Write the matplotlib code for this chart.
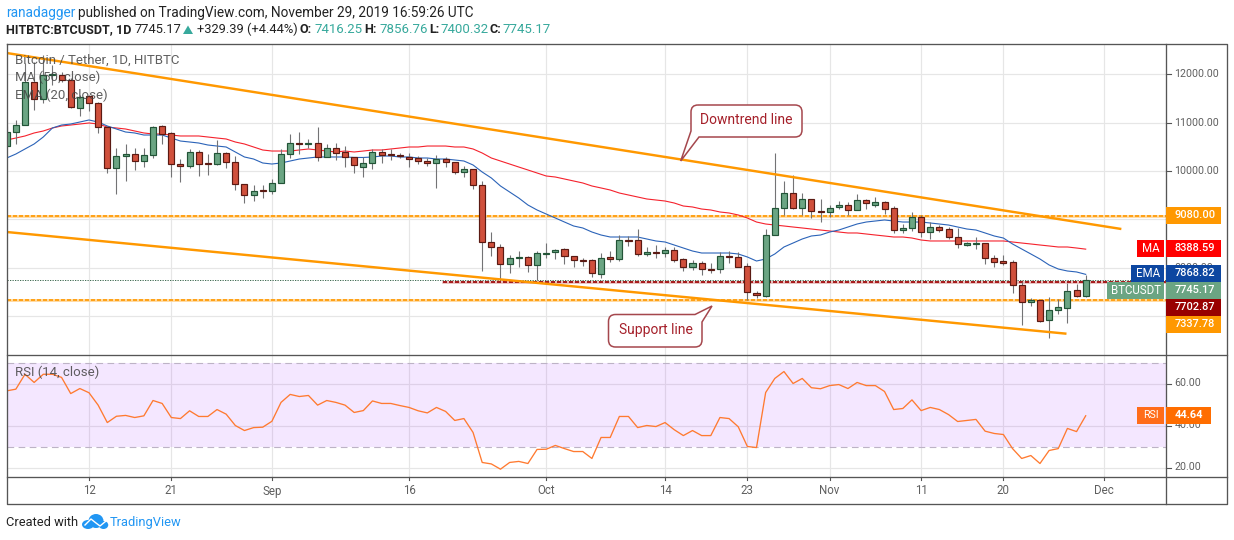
import matplotlib
matplotlib.use("Agg")
import matplotlib.pyplot as plt
from matplotlib.patches import Rectangle, PathPatch, Polygon, Ellipse
from matplotlib.path import Path

plt.rcParams['font.family'] = ['Roboto', 'DejaVu Sans']

# day numbers counted from 12 Aug 2019, first candle is 3 Aug
first_day = -9

opens = [10515, 10804, 10948, 11835, 11485, 11980, 11980, 11876, 11299, 11546,
         11402, 10907, 10062, 10309, 10350, 10206, 10330, 10928, 10784, 10144,
         10103, 10392, 10165, 10144, 10371, 10186, 9732, 9505, 9608, 9588,
         9753, 10350, 10577, 10557, 10577, 10289, 10474, 10392, 10289, 10082,
         10165, 10392, 10350, 10330, 10289, 10268, 10206, 10165, 10247, 10186,
         9979, 10041, 9711, 8536, 8433, 8082, 8206, 8227, 8062, 8289,
         8330, 8392, 8247, 8165, 8165, 7876, 8227, 8185, 8577, 8577,
         8289, 8330, 8309, 8371, 8185, 8021, 8103, 7979, 7979, 8247,
         8227, 8041, 7484, 7423, 8680, 9237, 9546, 9237, 9423, 9175,
         9155, 9258, 9299, 9196, 9402, 9299, 9361, 9237, 8783, 8825,
         9052, 8742, 8845, 8804, 8639, 8474, 8495, 8515, 8206, 8144,
         8124, 7649, 7299, 7340, 6928, 7134, 7175, 7546, 7416.25]
highs = [10928, 11052, 12227, 12248, 12392, 12186, 12041, 11918, 11567, 11567,
         11423, 10928, 10474, 10557, 10474, 10474, 10928, 10948, 10804, 10247,
         10454, 10433, 10350, 10639, 10392, 10309, 9732, 9711, 9711, 9835,
         10454, 10763, 10804, 10660, 10907, 10557, 10577, 10515, 10289, 10289,
         10454, 10454, 10454, 10371, 10371, 10309, 10268, 10330, 10289, 10186,
         10103, 10041, 9794, 8742, 8495, 8268, 8350, 8247, 8350, 8515,
         8392, 8412, 8247, 8206, 8185, 8309, 8350, 8680, 8660, 8804,
         8433, 8474, 8433, 8433, 8206, 8165, 8144, 8103, 8330, 8350,
         8330, 8103, 7526, 8804, 10371, 9794, 9918, 9546, 9423, 9423,
         9299, 9381, 9361, 9526, 9423, 9464, 9381, 9278, 8907, 9155,
         9093, 8948, 8886, 8845, 8825, 8536, 8639, 8515, 8268, 8268,
         8165, 7711, 7381, 7340, 7402, 7360, 7690, 7670, 7856.76]
lows = [10515, 10557, 10948, 11258, 11402, 11773, 11835, 11299, 11134, 11237,
        10784, 9959, 9526, 9794, 10021, 10082, 10268, 10557, 9876, 9773,
        10062, 9897, 9918, 10124, 10062, 9608, 9340, 9381, 9443, 9526,
        9753, 10268, 10350, 10474, 10206, 10289, 10227, 10082, 9959, 9876,
        10041, 10165, 10227, 10268, 10082, 10144, 10103, 9650, 10082, 9938,
        9876, 9629, 7938, 8247, 7773, 7897, 8021, 7918, 7752, 8206,
        8185, 8082, 8021, 8041, 7814, 7794, 8124, 8144, 8454, 8247,
        8247, 8206, 8227, 8124, 7938, 7959, 7855, 7897, 7897, 8103,
        8021, 7340, 7381, 7402, 8680, 9093, 9216, 9093, 9031, 8948,
        9052, 9216, 9093, 9196, 9216, 9258, 9113, 8722, 8722, 8763,
        8639, 8598, 8742, 8598, 8412, 8454, 8392, 8082, 8021, 8062,
        7484, 6824, 7216, 6886, 6556, 7051, 6866, 7402, 7400.32]
closes = [10804, 10948, 11835, 11485, 11980, 12000, 11876, 11320, 11526, 11402,
          10907, 10062, 10309, 10350, 10206, 10330, 10907, 10763, 10144, 10103,
          10392, 10144, 10144, 10371, 10186, 9732, 9505, 9588, 9588, 9753,
          10350, 10577, 10557, 10577, 10289, 10474, 10371, 10289, 10124, 10165,
          10392, 10330, 10330, 10309, 10247, 10206, 10165, 10247, 10186, 9979,
          10041, 9711, 8536, 8433, 8082, 8206, 8227, 8062, 8309, 8309,
          8371, 8247, 8165, 8144, 7897, 8206, 8185, 8577, 8557, 8289,
          8330, 8309, 8371, 8165, 8021, 8103, 7979, 7959, 8247, 8227,
          8021, 7505, 7443, 8680, 9237, 9546, 9237, 9423, 9175, 9155,
          9237, 9299, 9196, 9402, 9340, 9361, 9216, 8783, 8825, 9052,
          8742, 8845, 8783, 8639, 8495, 8515, 8515, 8206, 8124, 8103,
          7649, 7299, 7340, 6907, 7134, 7196, 7526, 7423, 7745.17]

ma_50 = [10639, 10680, 10722, 10784, 10825, 10887, 10928, 10948, 10969, 10990,
         10969, 10907, 10887, 10866, 10825, 10784, 10763, 10763, 10742, 10722,
         10722, 10722, 10701, 10680, 10660, 10598, 10557, 10495, 10433, 10412,
         10412, 10412, 10433, 10454, 10433, 10412, 10392, 10412, 10392, 10412,
         10433, 10433, 10454, 10474, 10495, 10495, 10515, 10515, 10515, 10495,
         10495, 10454, 10371, 10268, 10206, 10144, 10082, 10021, 9959, 9897,
         9876, 9835, 9794, 9753, 9691, 9650, 9608, 9546, 9505, 9464,
         9423, 9402, 9381, 9340, 9278, 9258, 9216, 9196, 9155, 9134,
         9093, 9031, 8948, 8907, 8886, 8866, 8845, 8825, 8804, 8783,
         8763, 8742, 8722, 8722, 8701, 8680, 8660, 8639, 8639, 8618,
         8577, 8557, 8557, 8557, 8557, 8557, 8557, 8557, 8557, 8557,
         8536, 8515, 8495, 8474, 8454, 8433, 8433, 8412, 8388.59]
ema_20 = [10268, 10350, 10454, 10557, 10701, 10887, 10948, 10969, 11010, 11052,
          11010, 10928, 10866, 10804, 10784, 10742, 10742, 10742, 10680, 10618,
          10598, 10577, 10536, 10515, 10495, 10392, 10289, 10247, 10165, 10144,
          10165, 10206, 10247, 10268, 10289, 10289, 10289, 10289, 10279, 10279,
          10289, 10309, 10309, 10289, 10289, 10268, 10268, 10247, 10247, 10227,
          10206, 10124, 9979, 9856, 9691, 9567, 9443, 9299, 9196, 9113,
          9031, 8948, 8866, 8825, 8742, 8680, 8639, 8639, 8639, 8639,
          8598, 8557, 8536, 8474, 8412, 8350, 8309, 8309, 8309, 8309,
          8289, 8227, 8144, 8185, 8289, 8433, 8515, 8598, 8660, 8680,
          8742, 8783, 8845, 8907, 8948, 8969, 8990, 8969, 8948, 8948,
          8948, 8928, 8907, 8886, 8845, 8804, 8783, 8722, 8660, 8618,
          8495, 8392, 8289, 8185, 8062, 7979, 7938, 7918, 7868.82]
rsi_14 = [56.5, 57.3, 64.4, 60.5, 64.4, 64.4, 62.9, 55.2, 57.6, 55.6,
          49.7, 41.4, 44.4, 44.8, 43.8, 44.6, 51.9, 50.5, 43.8, 43.3,
          47.0, 44.3, 44.3, 47.6, 45.4, 40.0, 37.6, 39.0, 39.2, 42.0,
          51.0, 54.8, 53.8, 54.3, 49.7, 51.9, 51.0, 49.7, 46.2, 47.1,
          51.7, 50.5, 50.5, 49.5, 48.6, 47.0, 46.0, 48.6, 46.7, 42.4,
          43.3, 36.7, 22.4, 21.7, 19.2, 22.4, 22.9, 21.9, 28.6, 28.7,
          30.5, 29.0, 27.6, 27.6, 24.3, 34.3, 34.3, 44.3, 44.3, 39.0,
          40.0, 39.5, 41.4, 38.0, 35.2, 37.6, 35.2, 35.2, 43.8, 43.3,
          39.4, 30.0, 29.5, 55.7, 62.4, 65.7, 60.0, 62.4, 58.0, 57.5,
          59.0, 59.5, 57.6, 60.5, 59.0, 59.0, 56.2, 47.6, 48.1, 52.2,
          47.1, 48.6, 47.6, 45.2, 41.9, 42.4, 42.9, 37.3, 36.2, 35.7,
          29.0, 24.3, 25.7, 21.9, 28.1, 29.0, 38.6, 37.1, 44.64]

tick_days = [0, 9, 20, 35, 50, 63, 72, 81, 91, 100, 111]
tick_labels = ['12', '21', 'Sep', '16', 'Oct', '14', '23', 'Nov', '11', '20', 'Dec']
price_ticks = [7000, 8000, 9000, 10000, 11000, 12000]
# 9000 and 7000 sit fully behind the price tags in the picture
price_labels = [8000, 10000, 11000, 12000]
rsi_ticks = [20, 40, 60]

upper_days = [-9.0, 112.9]
upper_prices = [12433, 8804]
lower_days = [-9.0, 106.9]
lower_prices = [8742, 6645]
resistance = 9080.00
support = 7337.78
broken_level = 7702.87
broken_start = 38.7
last_price = 7745.17

W, H = 1234, 540
LEFT, AXIS, RIGHT = 6.5, 1165.5, 1227
TOP, SPLIT, RSI_BOTTOM, BOTTOM = 43.5, 355, 476.5, 503.5

GREEN, GREEN_EDGE = '#6ba583', '#225437'
RED, RED_EDGE = '#d0503c', '#5b1a13'
WICK = '#737375'
ORANGE = '#ff9800'
GRID = '#e6e6e6'
FRAME = '#555555'
TEXT = '#5f5f5f'
TEAL = '#37a99c'
AXIS_FS = 7.7


def px_axes(fig, x0, y0, x1, y1):
    return fig.add_axes([x0 / W, 1 - y1 / H, (x1 - x0) / W, (y1 - y0) / H])


def callout(ax, x0, y0, x1, y1, before_right, before_left, r=7):
    # clockwise round box, before_right is spliced into the top/right side, before_left into bottom/left
    verts = [(x0 + r, y0)]
    codes = [Path.MOVETO]
    for p in before_right:
        verts.append(p)
        codes.append(Path.LINETO)
    if not before_right:
        verts += [(x1 - r, y0), (x1, y0), (x1, y0 + r)]
        codes += [Path.LINETO, Path.CURVE3, Path.CURVE3]
    verts += [(x1, y1 - r), (x1, y1), (x1 - r, y1)]
    codes += [Path.LINETO, Path.CURVE3, Path.CURVE3]
    for p in before_left:
        verts.append(p)
        codes.append(Path.LINETO)
    if not before_left:
        verts += [(x0 + r, y1), (x0, y1), (x0, y1 - r)]
        codes += [Path.LINETO, Path.CURVE3, Path.CURVE3]
    verts += [(x0, y0 + r), (x0, y0), (x0 + r, y0)]
    codes += [Path.LINETO, Path.CURVE3, Path.CURVE3]
    ax.add_patch(PathPatch(Path(verts, codes), fc='white', ec='#a5474d', lw=1.1, zorder=5))


def main():
    fig = plt.figure(figsize=(W / 100, H / 100), dpi=100, facecolor='white')

    days = list(range(first_day, first_day + len(closes)))
    x_left = (LEFT - 89) / 9.144
    x_right = (AXIS - 89) / 9.144

    # price pane
    ax = px_axes(fig, LEFT, TOP, AXIS, SPLIT)
    ax.set_xlim(x_left, x_right)
    ax.set_ylim(13526 - 20.62 * SPLIT, 13526 - 20.62 * TOP)
    ax.set_xticks(tick_days)
    ax.set_yticks(price_ticks)
    ax.grid(True, color=GRID, lw=0.85)
    ax.set_axisbelow(True)
    ax.tick_params(left=False, bottom=False, right=False, labelleft=False, labelbottom=False)
    for s in ax.spines.values():
        s.set_visible(False)

    ax.axhline(last_price, color=GREEN_EDGE, lw=0.6, ls=(0, (1.5, 1.5)), zorder=1)
    for level in [resistance, support]:
        ax.axhline(level, color='#ffd79a', lw=2.0, zorder=1.5)
        ax.axhline(level, color=ORANGE, lw=1.2, ls=(0, (2.4, 1.2)), zorder=1.6)
    ax.plot([broken_start, x_right], [broken_level, broken_level], color='#e7b9b9', lw=1.9, zorder=1.5)
    ax.plot([broken_start, x_right], [broken_level, broken_level], color='#990000', lw=1.2,
            ls=(0, (2.4, 1.2)), zorder=1.6)

    ax.plot(days, ma_50, color='#f5222d', lw=0.8, zorder=2)
    ax.plot(days, ema_20, color='#2b63b8', lw=0.8, zorder=2)

    for d, o, h, l, c in zip(days, opens, highs, lows, closes):
        up = c >= o
        ax.plot([d, d], [l, h], color=WICK, lw=0.8, zorder=3, solid_capstyle='butt')
        ax.add_patch(Rectangle((d - 0.33, min(o, c)), 0.66, max(abs(c - o), 18),
                               fc=GREEN if up else RED, ec=GREEN_EDGE if up else RED_EDGE,
                               lw=0.85, zorder=4))

    ax.plot(upper_days, upper_prices, color=ORANGE, lw=1.75, zorder=4.5, solid_capstyle='butt')
    ax.plot(lower_days, lower_prices, color=ORANGE, lw=1.75, zorder=4.5, solid_capstyle='butt')

    # rsi pane
    rx = px_axes(fig, LEFT, SPLIT, AXIS, RSI_BOTTOM)
    rx.set_xlim(x_left, x_right)
    rx.set_ylim(60 - (RSI_BOTTOM - 383.5) / 2.1, 60 - (SPLIT - 383.5) / 2.1)
    rx.set_xticks(tick_days)
    rx.set_yticks(rsi_ticks)
    rx.grid(True, color=GRID, lw=0.85)
    rx.set_axisbelow(True)
    rx.tick_params(left=False, bottom=False, labelleft=False, labelbottom=False)
    for s in rx.spines.values():
        s.set_visible(False)
    rx.axhspan(30, 70, color='#9915ff', alpha=0.1, lw=0, zorder=1)
    for level in [30, 70]:
        rx.axhline(level, color='#bdb3c6', lw=0.8, ls=(0, (6, 4)), zorder=1.5)
    rx.plot(days, rsi_14, color='#ff7a30', lw=0.95, zorder=3)

    # everything outside the data lives on a pixel overlay
    ov = fig.add_axes([0, 0, 1, 1], facecolor='none')
    ov.set_xlim(0, W)
    ov.set_ylim(H, 0)
    ov.axis('off')

    for xs, ys in [([LEFT, RIGHT, RIGHT, LEFT, LEFT], [TOP, TOP, BOTTOM, BOTTOM, TOP]),
                   ([AXIS, AXIS], [TOP, BOTTOM]),
                   ([LEFT, RIGHT], [SPLIT, SPLIT]),
                   ([LEFT, RIGHT], [RSI_BOTTOM, RSI_BOTTOM])]:
        ov.plot(xs, ys, color=FRAME, lw=0.95, zorder=6, solid_capstyle='projecting')

    for d, lab in zip(tick_days, tick_labels):
        x = 89 + 9.144 * d
        ov.plot([x, x], [RSI_BOTTOM, RSI_BOTTOM + 3], color=FRAME, lw=0.8, zorder=6)
        ov.text(x, 491, lab, ha='center', va='center', fontsize=8.3, color=TEXT)

    for p in price_ticks:
        y = (13526 - p) / 20.62
        ov.plot([AXIS, AXIS + 5], [y, y], color=FRAME, lw=0.8, zorder=6)
    for p in price_labels:
        y = (13526 - p) / 20.62
        ov.text(1174.5, y, f'{p:.2f}', ha='left', va='center', fontsize=AXIS_FS, color=TEXT, zorder=6)
    for v in rsi_ticks:
        y = 383.5 + (60 - v) * 2.1
        ov.plot([AXIS, AXIS + 5], [y, y], color=FRAME, lw=0.8, zorder=6)
        ov.text(1174.5, y, f'{v:.2f}', ha='left', va='center', fontsize=AXIS_FS, color=TEXT, zorder=6)

    # right hand price tags: (top, bottom, colour, value, name, name box left)
    tags = [(207, 224, ORANGE, '9080.00', None, None),
            (240, 257, '#ff0000', '8388.59', 'MA', 1137),
            (265, 282, '#0d47a1', '7868.82', 'EMA', 1131),
            (282, 299, GREEN, '7745.17', 'BTCUSDT', 1107),
            (299, 316, '#990000', '7702.87', None, None),
            (316, 333, ORANGE, '7337.78', None, None)]
    for y0, y1, col, val, name, nx in tags:
        ov.add_patch(Rectangle((1165.5, y0), 55.5, y1 - y0, fc=col, ec='none', zorder=7))
        ov.text(1174.5, (y0 + y1) / 2 - 0.3, val, ha='left', va='center', fontsize=AXIS_FS + 0.2, color='white',
                fontweight='medium', zorder=8)
        if name:
            ov.add_patch(Rectangle((nx, y0), 1164.3 - nx, y1 - y0, fc=col, ec='none', zorder=7))
            ov.text((nx + 1164.3) / 2, (y0 + y1) / 2 - 0.3, name, ha='center', va='center', fontsize=AXIS_FS + 0.6,
                    color='white', zorder=8)
    ov.add_patch(Rectangle((1137, 407), 27.3, 17, fc='#ff6d1a', ec='none', zorder=7))
    ov.add_patch(Rectangle((1165.5, 407), 45, 17, fc='#ff6d00', ec='none', zorder=7))
    ov.text(1150.5, 415.2, 'RSI', ha='center', va='center', fontsize=AXIS_FS, color='white', zorder=8)
    ov.text(1174.5, 415.2, '44.64', ha='left', va='center', fontsize=AXIS_FS + 0.2, color='white',
            fontweight='bold', zorder=8)

    # pane legends
    for y, s in [(60.5, 'Bitcoin / Tether, 1D, HITBTC'), (77.5, 'MA (50, close)'),
                 (95, 'EMA (20, close)'), (372.5, 'RSI (14, close)')]:
        ov.text(15, y, s, ha='left', va='center', fontsize=9.5, color='#444444', alpha=0.85, zorder=8)

    # callouts
    callout(ov, 691, 105, 802, 137, [], [(699, 137), (680.7, 161), (691, 131)])
    ov.text(746.5, 120.5, 'Downtrend line', ha='center', va='center', fontsize=10, color='#a5202a', zorder=6)
    callout(ov, 608.5, 314.5, 702, 347, [(695, 314.5), (712, 306), (702, 322)], [])
    ov.text(655.5, 330, 'Support line', ha='center', va='center', fontsize=10, color='#a5202a', zorder=6)

    # header
    ov.text(6, 12.5, 'ranadagger', ha='left', va='center', fontsize=9.8, color='#2196f3')
    ov.text(77.5, 12.5, 'published on TradingView.com, November 29, 2019 16:59:26 UTC', ha='left',
            va='center', fontsize=9.82, color='#222222')
    ov.text(6, 29.5, 'HITBTC:BTCUSDT, 1D', ha='left', va='center', fontsize=9.1, fontweight='bold', color='#222222')
    ov.text(134.5, 29.5, '7745.17', ha='left', va='center', fontsize=9.3, color='#222222')
    ov.add_patch(Polygon([(183, 34), (193, 34), (188, 25.5)], fc=TEAL, ec='none'))
    ov.text(197, 29.5, '+329.39 (+4.44%)', ha='left', va='center', fontsize=9.3, color='#222222')
    for x, s in [(300, 'O:'), (364, 'H:'), (429, 'L:'), (489, 'C:')]:
        ov.text(x, 29.5, s, ha='left', va='center', fontsize=9.1, fontweight='bold', color='#222222')
    for x, s in [(314, '7416.25'), (379, '7856.76'), (440, '7400.32'), (502, '7745.17')]:
        ov.text(x, 29.5, s, ha='left', va='center', fontsize=9.5, color=TEAL)

    # footer with the little cloud logo
    ov.text(6, 522.5, 'Created with', ha='left', va='center', fontsize=9.3, color='#222222')
    logo = '#2196f3'
    for c, w, h in [((88, 524.5), 12, 9), ((96, 521), 15, 14), ((103.5, 525), 9.5, 8)]:
        ov.add_patch(Ellipse(c, w, h, fc=logo, ec='none'))
    ov.plot([85, 91, 96, 100, 106], [525, 519, 523, 526, 521], color='white', lw=1.0)
    ov.text(110, 522.5, 'TradingView', ha='left', va='center', fontsize=9.3, color='#2196f3')

    fig.savefig('out.png', dpi=100, facecolor='white')


if __name__ == "__main__":
    main()
